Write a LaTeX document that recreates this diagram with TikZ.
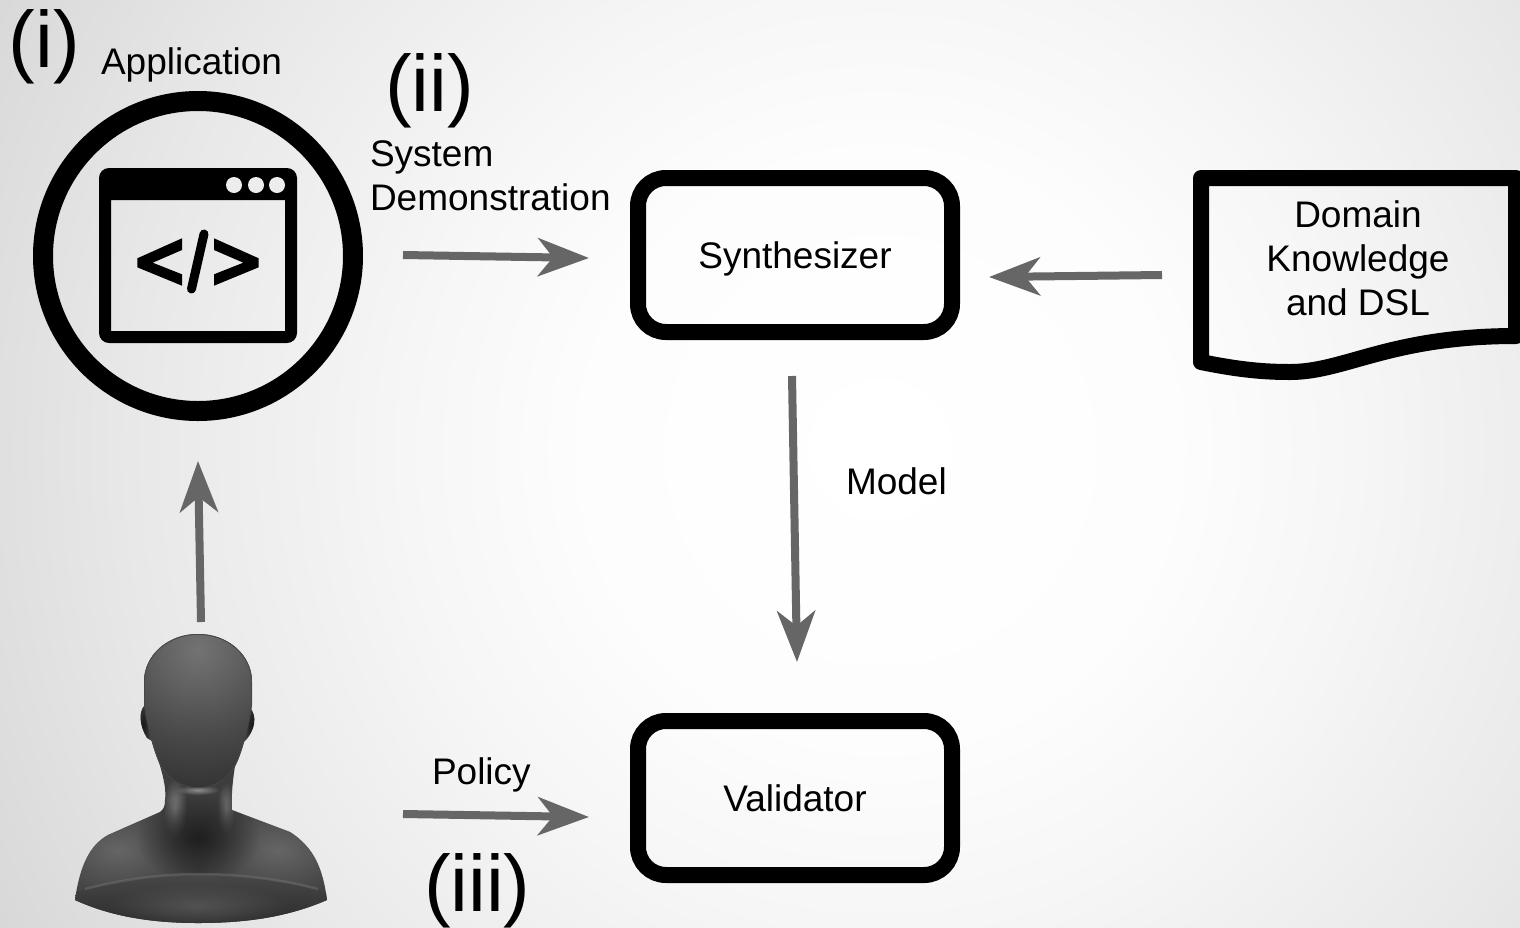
\documentclass[tikz,border=0pt]{standalone}
\usepackage{fontspec}
\setmainfont{Liberation Sans}
\usetikzlibrary{arrows.meta,fadings}
\pgfdeclareradialshading{bgsh}{\pgfpoint{0bp}{0bp}}{rgb(0bp)=(1,1,1);rgb(7bp)=(0.992,0.992,0.992);rgb(11.3bp)=(0.965,0.965,0.965);rgb(17.85bp)=(0.91,0.91,0.91);rgb(23.8bp)=(0.847,0.847,0.847);rgb(25bp)=(0.835,0.835,0.835);rgb(50bp)=(0.835,0.835,0.835)}
\pgfdeclareradialshading{facesh}{\pgfpoint{0bp}{0bp}}{rgb(0bp)=(0.45,0.45,0.45);rgb(6.5bp)=(0.38,0.38,0.38);rgb(15bp)=(0.28,0.28,0.28);rgb(23.5bp)=(0.2,0.2,0.2);rgb(50bp)=(0.2,0.2,0.2)}
\tikzfading[name=softglow,inner color=transparent!0,outer color=transparent!100]
\definecolor{arrowgray}{HTML}{666666}
\tikzset{
  flowbox/.style={draw=black,line width=16pt,rounded corners=28pt,minimum width=314pt,minimum height=154pt,inner sep=0pt,text height=27pt,text depth=0pt,font=\fontsize{37}{44}\selectfont},
  lbl/.style={inner sep=0pt,outer sep=0pt,text=black,font=\fontsize{37}{44}\selectfont},
  biglbl/.style={inner sep=0pt,outer sep=0pt,anchor=base west,text=black,font=\fontsize{80}{90}\selectfont},
  flow/.style={draw=arrowgray,line width=8pt,-{Stealth[length=51pt,width=38pt,inset=15pt,fill=arrowgray]}},
  glow/.style={path fading=softglow}
}
\begin{document}
\begin{tikzpicture}[x=1pt,y=-1pt]
\useasboundingbox (0,0) rectangle (1520,927);
% background
\begin{scope}
\clip (0,0) rectangle (1520,927);
\shade[shading=bgsh] (880,450) circle (1050);
\end{scope}

% application icon
\node[circle,draw=black,line width=20pt,minimum size=310pt,inner sep=0pt] (app) at (198,256) {};
\fill[black,even odd rule,rounded corners=10pt] (99,168) rectangle (297,343)
  [sharp corners] (111,200) rectangle (285,331);
\fill[white!93!black] (234,185) circle (8) (256,185) circle (8) (277,185) circle (8);
\fill[black] (182,238.3) -- (137.3,258.3) -- (137.3,267.3) -- (182,285.7) -- (182,274.3) -- (152.7,262.7) -- (182,250) -- cycle;
\fill[black] (214,238.3) -- (258.7,258.3) -- (258.7,267.3) -- (214,285.7) -- (214,274.3) -- (243.3,262.7) -- (214,250) -- cycle;
\draw[black,line width=9pt,line cap=round] (204,234) -- (191.5,289);

% boxes
\node[flowbox] (synth) at (795,255) {Synthesizer};
\node[flowbox] (valid) at (795,798) {Validator};

% document
\draw[black,line width=16pt,line join=round]
  (1201,178) -- (1516,178) -- (1516,336)
  .. controls (1390,336) and (1345,372) .. (1290,372)
  .. controls (1265,372) and (1240,370) .. (1201,362) -- cycle;
\node[lbl,align=center] (doc) at (1358,258) {Domain\\Knowledge\\and DSL};
\coordinate (docin) at (1162,275);

% person
\def\headpath{(198,634) .. controls (168,634) and (144,655) .. (144,682) -- (144,705)
  .. controls (147,725) and (152,745) .. (158,760)
  .. controls (166,780) and (182,788) .. (198,788)
  .. controls (214,788) and (230,780) .. (238,760)
  .. controls (244,745) and (249,725) .. (252,705) -- (252,682)
  .. controls (252,655) and (228,634) .. (198,634) -- cycle}
\def\bustpath{(198,634) .. controls (168,634) and (144,655) .. (144,682) -- (144,706)
  .. controls (139,712) and (139,725) .. (147,738) -- (152,741)
  .. controls (160,765) and (167,785) .. (165,800)
  .. controls (165,806) and (164,809) .. (160,812)
  -- (108,835) .. controls (90,845) and (80,865) .. (75,900)
  .. controls (110,916) and (150,923) .. (198,923)
  .. controls (250,923) and (290,916) .. (327,900)
  .. controls (323,870) and (315,848) .. (290,832)
  -- (232,810) .. controls (231,795) and (233,770) .. (240,742) -- (244,742)
  .. controls (256,730) and (257,715) .. (250,708) -- (252,682)
  .. controls (252,655) and (228,634) .. (198,634) -- cycle}
\coordinate (persontop) at (198,634);
\coordinate (personeast) at (330,814);
\begin{scope}
\expandafter\clip\bustpath;
\fill[black!76] (60,620) rectangle (340,930);
% shoulders and neck highlights
\fill[black!60,glow] (118,850) ellipse (85 and 55);
\fill[black!60,glow] (278,850) ellipse (85 and 55);
\fill[black!50,glow] (175,808) ellipse (12 and 30);
\fill[black!55,glow] (226,808) ellipse (9 and 26);
\fill[black!88,glow] (198,838) ellipse (62 and 44);
\fill[black!90,glow] (143,725) ellipse (8 and 22);
\fill[black!90,glow] (252,725) ellipse (8 and 22);
% lower chest and crease
\shade[top color=black!72,bottom color=black!84] (60,930) -- (60,897) .. controls (110,880) and (160,874) .. (198,874)
  .. controls (240,874) and (290,880) .. (340,897) -- (340,930) -- cycle;
\draw[black!50,line width=2.5pt,opacity=.35] (85,889) .. controls (120,880) and (160,874) .. (198,874) .. controls (240,874) and (285,880) .. (318,889);
\fill[black!68,glow] (198,905) ellipse (90 and 22);
\end{scope}
\fill[black!45,glow] (198,790) ellipse (22 and 5);
\begin{scope}
\expandafter\clip\headpath;
\shade[shading=facesh] (198,650) circle (150);
\draw[black!72,line width=1.6pt] \headpath;
\end{scope}

% labels
\node[biglbl] (li) at (9,67) {(i)};
\node[biglbl] (lii) at (385,111) {(ii)};
\node[biglbl] (liii) at (424,911) {(iii)};
\node[lbl,anchor=base west] (lapp) at (101,74) {Application};
\node[lbl,anchor=base west] (lsys) at (370,166) {System};
\node[lbl,anchor=base west] (ldemo) at (370,210) {Demonstration};
\node[lbl,anchor=base west] (lmodel) at (846,494) {Model};
\node[lbl,anchor=base west] (lpolicy) at (432,784) {Policy};

% connectors
\draw[flow] ([shift={(40,-1)}]app.east) -- ([shift={(-41,3)}]synth.west);
\draw[flow] (docin) -- ([shift={(29,22)}]synth.east);
\draw[flow] ([shift={(-3,36)}]synth.south) -- ([shift={(2,-51)}]valid.north);
\draw[flow] ([shift={(73,0)}]personeast) -- ([shift={(-41,19)}]valid.west);
\draw[flow] ([shift={(3,-12)}]persontop) -- ([shift={(0,40)}]app.south);
\end{tikzpicture}
\end{document}
